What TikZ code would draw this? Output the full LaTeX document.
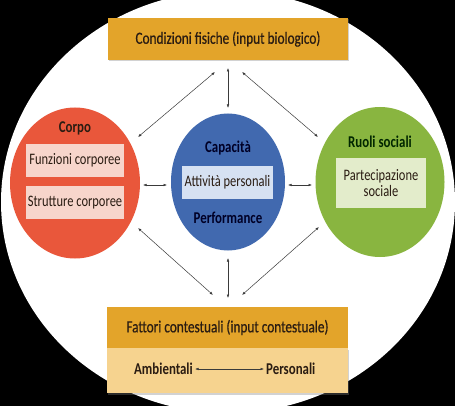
\documentclass[tikz,border=0pt]{standalone}
\usepackage{fontspec}
\setmainfont{Carlito}[FakeStretch=0.78]
\newfontfamily\medfont{Carlito}[FakeStretch=0.78, FakeBold=0.6]
\usetikzlibrary{arrows.meta,shapes.geometric,shadows}
\definecolor{gold}{HTML}{E3A42A}
\definecolor{sand}{HTML}{F6D38F}
\definecolor{redc}{HTML}{E9573B}
\definecolor{bluec}{HTML}{4169AF}
\definecolor{greenc}{HTML}{89B540}
\definecolor{pinkb}{HTML}{F7D5CB}
\definecolor{blueb}{HTML}{D6E1F2}
\definecolor{greenb}{HTML}{E3ECCB}
\definecolor{ink}{HTML}{2A1C12}
\definecolor{arr}{HTML}{3A3A3A}
\tikzset{
  circ/.style={ellipse, inner sep=0pt},
  inbox/.style={rectangle, inner sep=0pt, font=\fontsize{16}{17}\selectfont, text=ink},
  head/.style={font=\bfseries\fontsize{16.5}{17}\selectfont, text=ink},
  boxhead/.style={rectangle, inner sep=0pt, fill=gold, font=\medfont\fontsize{17}{18}\selectfont, text=ink},
  shad/.style={drop shadow={shadow xshift=1pt, shadow yshift=-1.5pt, opacity=0.35}},
  link/.style={draw=arr, line width=0.5pt, {Latex[length=3.5pt,width=2.6pt]}-{Latex[length=3.5pt,width=2.6pt]}}
}
\begin{document}
\begin{tikzpicture}[x=1pt,y=-1pt]
\fill[black] (0,0) rectangle (455,406);
\useasboundingbox (0,0) rectangle (455,406);
\fill[white] (228,202) ellipse [x radius=227, y radius=211];

% top box
\node[boxhead, shad, minimum width=240, minimum height=42] (top) at (228,39) {Condizioni fisiche (input biologico)};

% circles
\node[circ, fill=redc, minimum width=130, minimum height=151] (corpo) at (75,183) {};
\node[circ, fill=bluec, minimum width=114, minimum height=137] (cap) at (228,182) {};
\node[circ, fill=greenc, minimum width=129, minimum height=150] (ruoli) at (380,182) {};

% left circle content
\node[head, text=ink] (corpot) at (75,128) {Corpo};
\node[inbox, fill=pinkb, minimum width=98, minimum height=33] (funz) at (75,160.5) {Funzioni corporee};
\node[inbox, fill=pinkb, minimum width=98, minimum height=33] (strut) at (75,202.5) {Strutture corporee};

% centre circle content
\node[head, text=black!85!blue] (capt) at (228,148) {Capacità};
\node[inbox, fill=blueb, minimum width=91, minimum height=33] (att) at (227.5,182.5) {Attività personali};
\node[head, text=black!85!blue] (perf) at (228,218) {Performance};

% right circle content
\node[head, text=black!85!green] (ruolit) at (380,142) {Ruoli sociali};
\node[inbox, fill=greenb, minimum width=90, minimum height=50, align=center] (part) at (381,183) {Partecipazione\\[-1pt]sociale};

% bottom box
\node[rectangle, shad, fill=sand, minimum width=241, minimum height=45, anchor=north] (low) at (227.5,348) {};
\node[boxhead, minimum width=241, minimum height=41] (fatt) at (227.5,327.5) {Fattori contestuali (input contestuale)};
\node[font=\bfseries\fontsize{16.5}{17}\selectfont, text=ink, anchor=east, inner sep=2pt] (amb) at (195,369) {Ambientali};
\node[font=\bfseries\fontsize{16.5}{17}\selectfont, text=ink, anchor=west, inner sep=2pt] (pers) at (264,369) {Personali};
\draw[link] (amb) -- (pers);

% arrow end points
\coordinate (t1) at (215,72);
\coordinate (t2) at (228,68);
\coordinate (t3) at (242,72);
\coordinate (c1) at (138,137);
\coordinate (c2) at (228,108);
\coordinate (c3) at (318,137);
\coordinate (b1) at (213,295);
\coordinate (b2) at (228,298);
\coordinate (b3) at (242,295);
\coordinate (d1) at (138,228);
\coordinate (d2) at (228,258);
\coordinate (d3) at (319,227);
\coordinate (h1) at (143,185);
\coordinate (h2) at (167,185);
\coordinate (h3) at (288,185);
\coordinate (h4) at (312,185);

\draw[link] (t1) -- (c1);
\draw[link] (t2) -- (c2);
\draw[link] (t3) -- (c3);
\draw[link] (d1) -- (b1);
\draw[link] (d2) -- (b2);
\draw[link] (d3) -- (b3);
\draw[link] (h1) -- (h2);
\draw[link] (h3) -- (h4);
\end{tikzpicture}
\end{document}
